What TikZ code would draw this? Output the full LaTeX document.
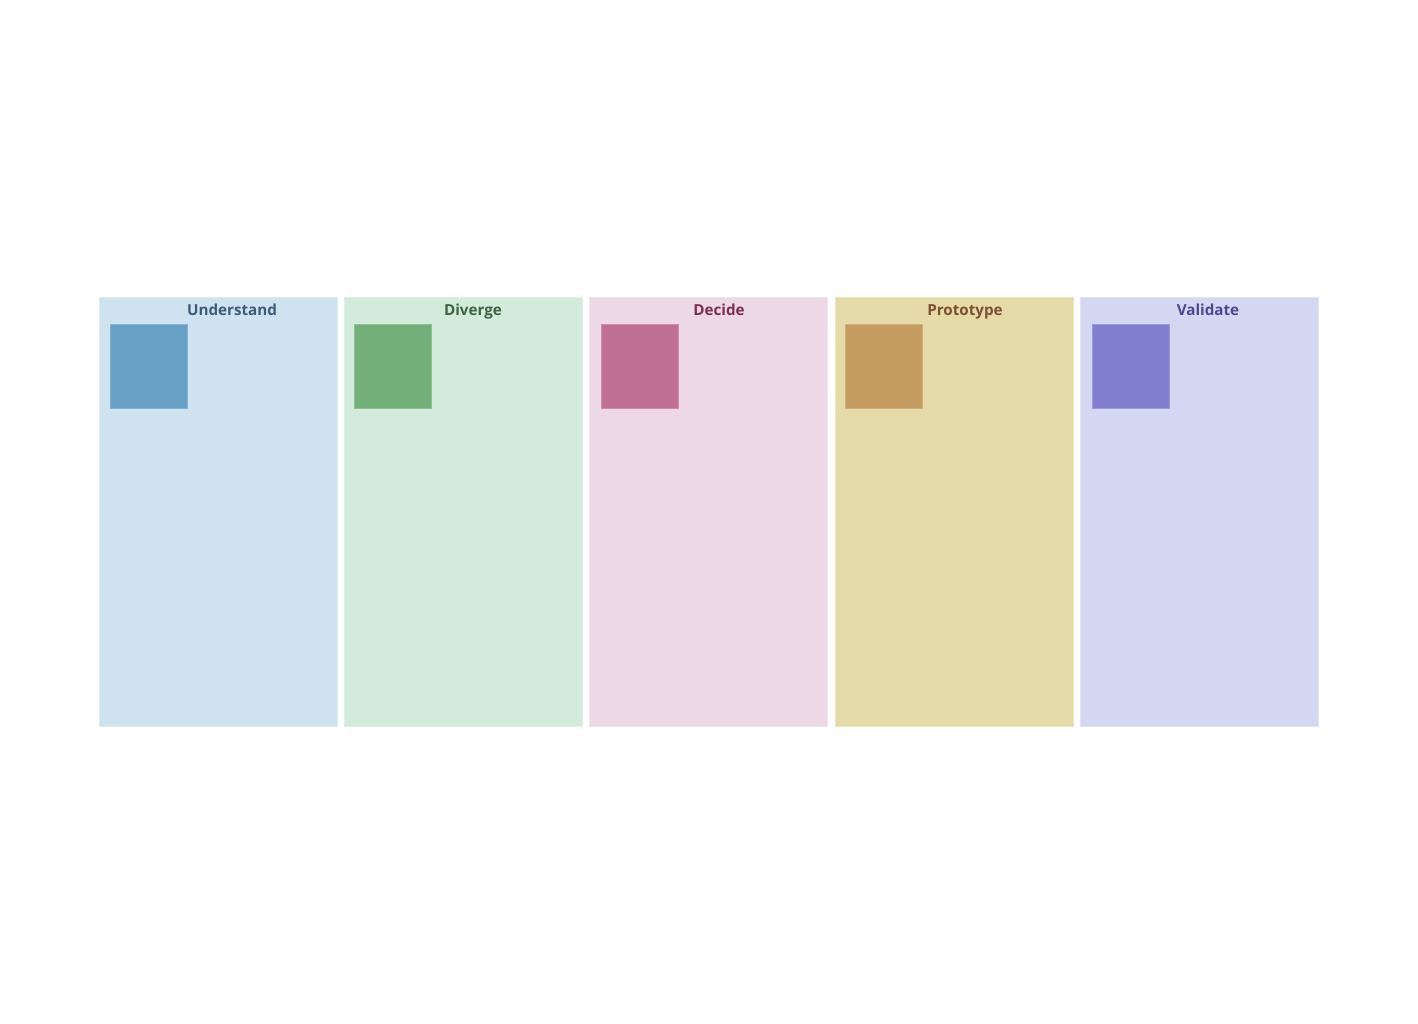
\documentclass[tikz,border=0pt]{standalone}
\usepackage{fontspec}
\setmainfont{Open Sans}
\definecolor{c1bg}{HTML}{CFE2F0}\definecolor{c1sq}{HTML}{689FC5}\definecolor{c1tx}{HTML}{3E5A75}
\definecolor{c2bg}{HTML}{D2EBDA}\definecolor{c2sq}{HTML}{73AF78}\definecolor{c2tx}{HTML}{3F6343}
\definecolor{c3bg}{HTML}{EDD8E5}\definecolor{c3sq}{HTML}{C07095}\definecolor{c3tx}{HTML}{7D3050}
\definecolor{c4bg}{HTML}{E5DBA8}\definecolor{c4sq}{HTML}{C59C60}\definecolor{c4tx}{HTML}{7D4F33}
\definecolor{c5bg}{HTML}{D4D7F1}\definecolor{c5sq}{HTML}{817ED0}\definecolor{c5tx}{HTML}{4E4790}
\tikzset{
  colbox/.style={draw=#1!70!white, line width=0.8pt, fill=#1},
  sqbox/.style={draw=#1!80!white, line width=0.8pt, fill=#1},
  ttl/.style={text=#1, font=\fontsize{15.2}{18}\selectfont\bfseries, anchor=base, inner sep=0pt}
}
\begin{document}
\begin{tikzpicture}[x=1pt,y=-1pt]
\useasboundingbox (0,0) rectangle (1418,1024);
\fill[white] (0,0) rectangle (1418,1024);
\foreach \i/\x/\sx/\tx/\name in {1/99/110.5/232/Understand,2/344/354.5/473/Diverge,3/589/601.5/719/Decide,4/835/845.5/965/Prototype,5/1080/1092.5/1208/Validate}{
  \draw[colbox=c\i bg] (\x,297) rectangle ++(238,429);
  \draw[sqbox=c\i sq] (\sx,324.5) rectangle ++(77,84);
  \node[ttl=c\i tx] (t\i) at (\tx,315) {\name};
}
\end{tikzpicture}
\end{document}
